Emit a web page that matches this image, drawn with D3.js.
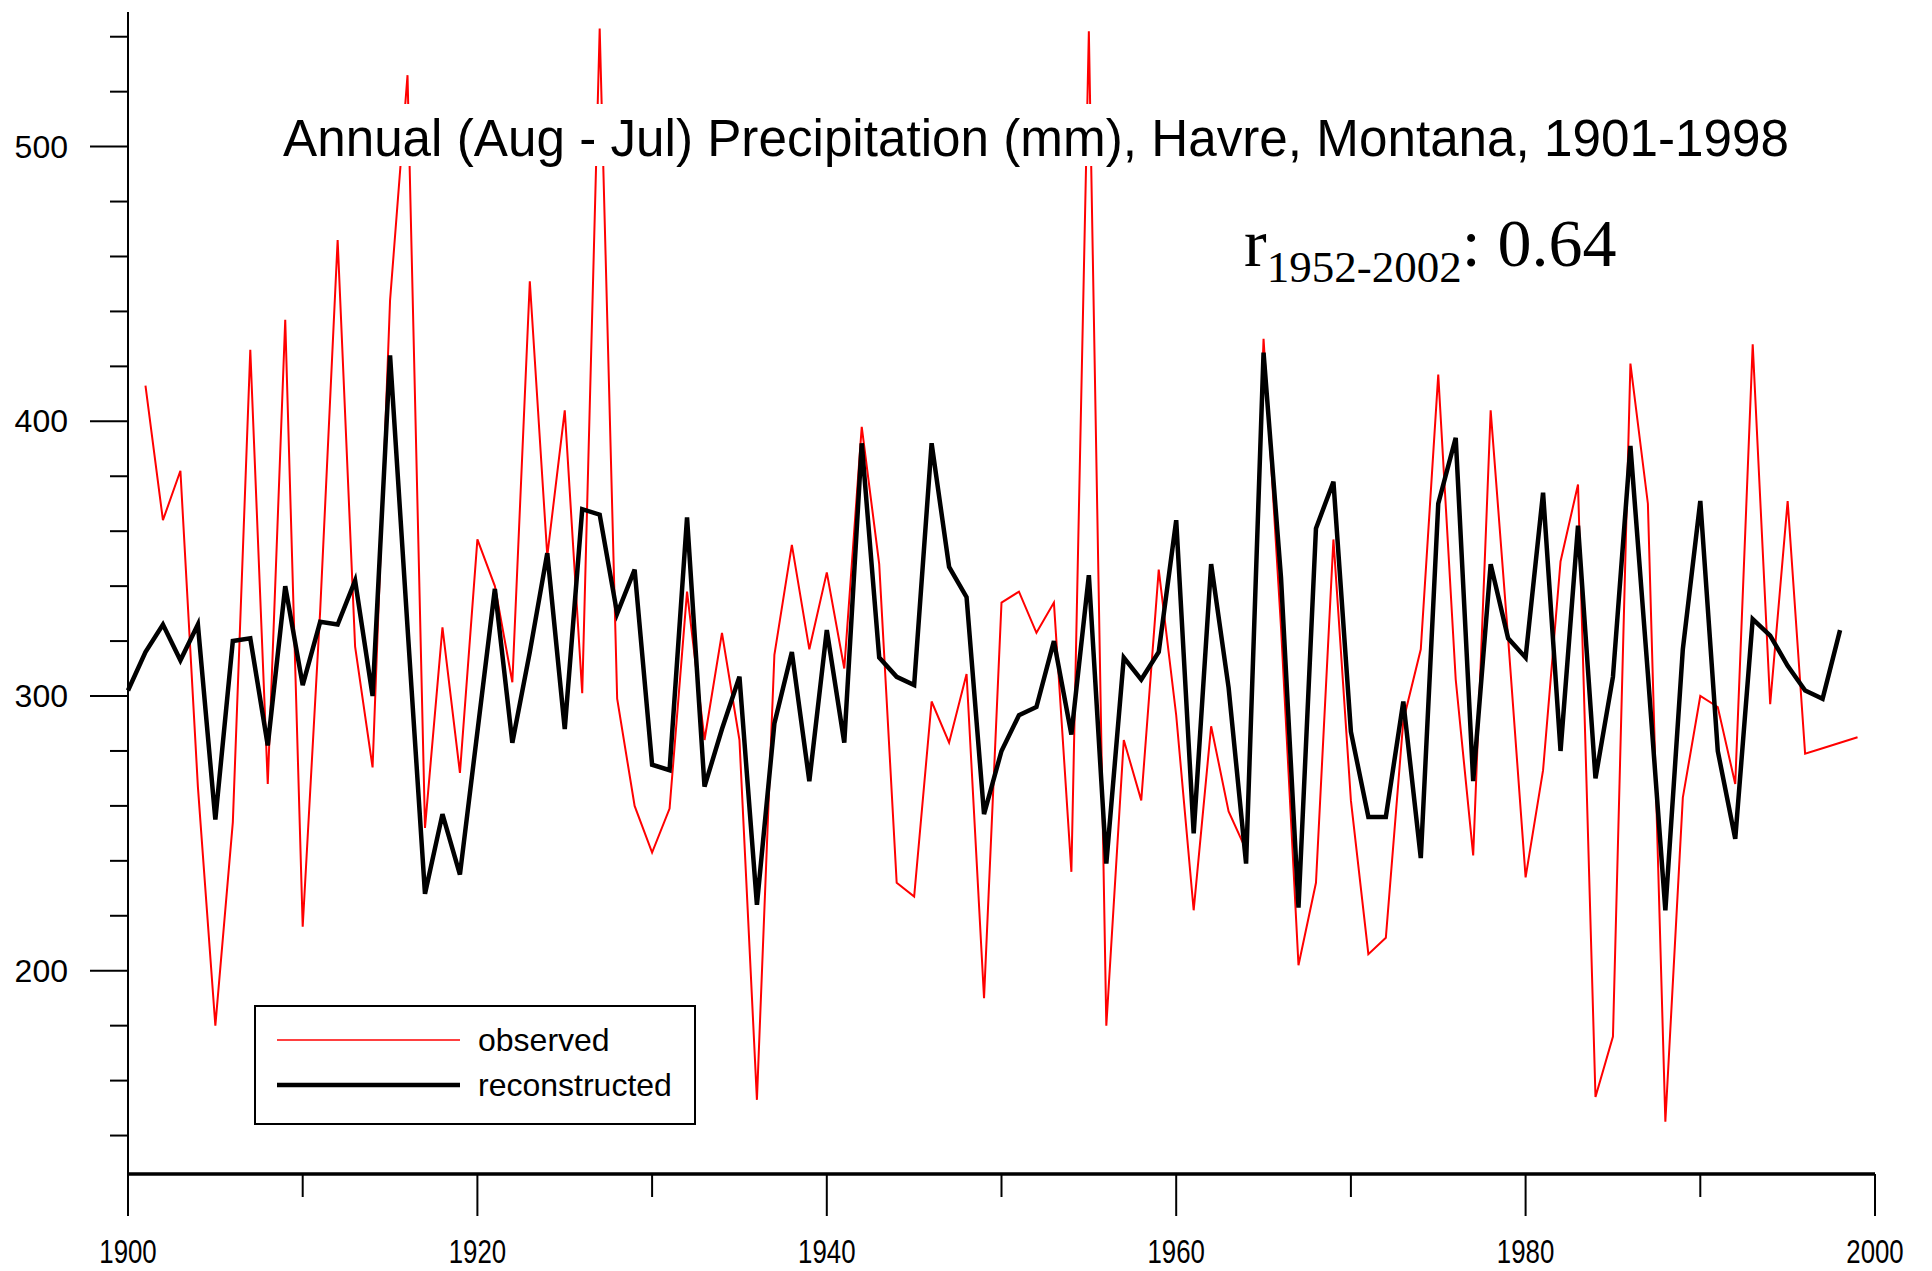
<!DOCTYPE html>
<html>
<head>
<meta charset="utf-8">
<script src="https://cdn.jsdelivr.net/npm/d3@7"></script>
<style>
  html, body { margin: 0; padding: 0; background: #fff; }
  svg { display: block; }
</style>
</head>
<body>
<div id="chart"></div>
<script>
// ---------------- data ----------------
const observedYears = d3.range(1901, 2000);
const observedValues = [
  413, 364, 382, 267, 180, 254, 426, 268, 437, 216,   // 1901-1910
  331, 466, 318, 274, 444, 526, 252, 325, 272, 357,   // 1911-1920
  340, 305, 451, 351, 404, 301, 543, 299, 260, 243,   // 1921-1930
  259, 338, 284, 323, 284, 153, 315, 355, 317, 345,   // 1931-1940
  310, 398, 348, 232, 227, 298, 283, 308, 190, 334,   // 1941-1950
  338, 323, 334, 236, 542, 180, 284, 262, 346, 293,   // 1951-1960
  222, 289, 258, 244, 430, 325, 202, 232, 357, 262,   // 1961-1970
  206, 212, 291, 317, 417, 306, 242, 404, 321, 234,   // 1971-1980
  273, 349, 377, 154, 176, 421, 370, 145, 263, 300,   // 1981-1990
  296, 268, 428, 297, 371, 279, 281, 283, 285         // 1991-1999
];

const reconYears = d3.range(1900, 1999);
const reconValues = [
  302,                                                // 1900
  316, 326, 313, 326, 255, 320, 321, 282, 340, 304,   // 1901-1910
  327, 326, 342, 300, 424, 325, 228, 257, 235, 287,   // 1911-1920
  339, 283, 316, 352, 288, 368, 366, 330, 346, 275,   // 1921-1930
  273, 365, 267, 288, 307, 224, 290, 316, 269, 324,   // 1931-1940
  283, 392, 314, 307, 304, 392, 347, 336, 257, 280,   // 1941-1950
  293, 296, 320, 286, 344, 239, 314, 306, 316, 364,   // 1951-1960
  250, 348, 303, 239, 425, 343, 223, 361, 378, 287,   // 1961-1970
  256, 256, 298, 241, 370, 394, 269, 348, 321, 314,   // 1971-1980
  374, 280, 362, 270, 307, 391, 308, 222, 317, 371,   // 1981-1990
  280, 248, 328, 322, 311, 302, 299, 324              // 1991-1998
];

const xMajorTicks = [1900, 1920, 1940, 1960, 1980, 2000];
const xMinorTicks = [1910, 1930, 1950, 1970, 1990];
const yMajorTicks = [200, 300, 400, 500];
const yMinorTicks = [140, 160, 180, 220, 240, 260, 280, 320, 340, 360, 380, 420, 440, 460, 480, 520, 540];

const titleText = "Annual (Aug - Jul) Precipitation (mm), Havre, Montana, 1901-1998";
const legendLabels = ["observed", "reconstructed"];

// ---------------- layout ----------------
const W = 1932, H = 1271;
const svg = d3.select("#chart").append("svg")
  .attr("width", W).attr("height", H)
  .attr("viewBox", `0 0 ${W} ${H}`);

const x = d3.scaleLinear().domain([1900, 2000]).range([128, 1875]);
const y = d3.scaleLinear().domain([126, 549]).range([1174, 12]);

const sans = "'Liberation Sans', Arial, Helvetica, sans-serif";
const serif = "'Liberation Serif', 'Times New Roman', Times, serif";

// ---------------- lines ----------------
const obs = observedYears.map((yr, i) => ({ yr, v: observedValues[i] }));
const rec = reconYears.map((yr, i) => ({ yr, v: reconValues[i] }));
const line = d3.line().x(d => x(d.yr)).y(d => y(d.v));

svg.append("path").datum(obs)
  .attr("d", line)
  .attr("fill", "none")
  .attr("stroke", "#ff0000")
  .attr("stroke-width", 2);

svg.append("path").datum(rec)
  .attr("d", line)
  .attr("fill", "none")
  .attr("stroke", "#000")
  .attr("stroke-width", 4.5)
  .attr("stroke-linejoin", "miter");

// ---------------- axes ----------------
const axisG = svg.append("g");

// y axis line
axisG.append("line")
  .attr("x1", x(1900)).attr("x2", x(1900))
  .attr("y1", y.range()[1]).attr("y2", y.range()[0])
  .attr("stroke", "#000").attr("stroke-width", 2);

// x axis line
axisG.append("line")
  .attr("x1", x(1900)).attr("x2", x(2000))
  .attr("y1", y.range()[0]).attr("y2", y.range()[0])
  .attr("stroke", "#000").attr("stroke-width", 3.5);

// y ticks
axisG.selectAll(".ymaj").data(yMajorTicks).enter().append("line")
  .attr("x1", x(1900) - 38).attr("x2", x(1900))
  .attr("y1", d => y(d)).attr("y2", d => y(d))
  .attr("stroke", "#000").attr("stroke-width", 2);
axisG.selectAll(".ymin").data(yMinorTicks).enter().append("line")
  .attr("x1", x(1900) - 18).attr("x2", x(1900))
  .attr("y1", d => y(d)).attr("y2", d => y(d))
  .attr("stroke", "#000").attr("stroke-width", 2);
axisG.selectAll(".ylab").data(yMajorTicks).enter().append("text")
  .attr("x", 68).attr("y", d => y(d) + 11)
  .attr("text-anchor", "end")
  .attr("font-family", sans).attr("font-size", 32)
  .text(d => d);

// x ticks
const y0 = y.range()[0];
axisG.selectAll(".xmaj").data(xMajorTicks).enter().append("line")
  .attr("x1", d => x(d)).attr("x2", d => x(d))
  .attr("y1", y0).attr("y2", y0 + 42)
  .attr("stroke", "#000").attr("stroke-width", 2);
axisG.selectAll(".xmin").data(xMinorTicks).enter().append("line")
  .attr("x1", d => x(d)).attr("x2", d => x(d))
  .attr("y1", y0).attr("y2", y0 + 23)
  .attr("stroke", "#000").attr("stroke-width", 2);
axisG.selectAll(".xlab").data(xMajorTicks).enter().append("text")
  .attr("transform", d => `translate(${x(d)},1263) scale(0.76,1)`)
  .attr("text-anchor", "middle")
  .attr("font-family", sans).attr("font-size", 34)
  .text(d => d);

// ---------------- title (with white backing box) ----------------
svg.append("rect")
  .attr("x", 281).attr("y", 104).attr("width", 1510).attr("height", 62)
  .attr("fill", "#fff");
svg.append("text")
  .attr("x", 283).attr("y", 156)
  .attr("font-family", sans).attr("font-size", 51)
  .attr("textLength", 1506).attr("lengthAdjust", "spacingAndGlyphs")
  .text(titleText);

// r annotation
const rText = svg.append("text")
  .attr("x", 1244).attr("y", 266)
  .attr("font-family", serif).attr("font-size", 68);
rText.append("tspan").text("r");
rText.append("tspan").attr("font-size", 45).attr("dy", 16).text("1952-2002");
rText.append("tspan").attr("dy", -16).text(": 0.64");

// ---------------- legend ----------------
const lg = svg.append("g");
lg.append("rect")
  .attr("x", 255).attr("y", 1006).attr("width", 440).attr("height", 118)
  .attr("fill", "#fff").attr("stroke", "#000").attr("stroke-width", 2);
const legendStyles = [
  { color: "#ff0000", width: 1.5, ly: 1040 },
  { color: "#000", width: 4.5, ly: 1085 }
];
legendLabels.forEach((lab, i) => {
  const s = legendStyles[i];
  lg.append("line")
    .attr("x1", 277).attr("x2", 460)
    .attr("y1", s.ly).attr("y2", s.ly)
    .attr("stroke", s.color).attr("stroke-width", s.width);
  lg.append("text")
    .attr("x", 478).attr("y", s.ly + 11)
    .attr("font-family", sans).attr("font-size", 32)
    .text(lab);
});
</script>
</body>
</html>
